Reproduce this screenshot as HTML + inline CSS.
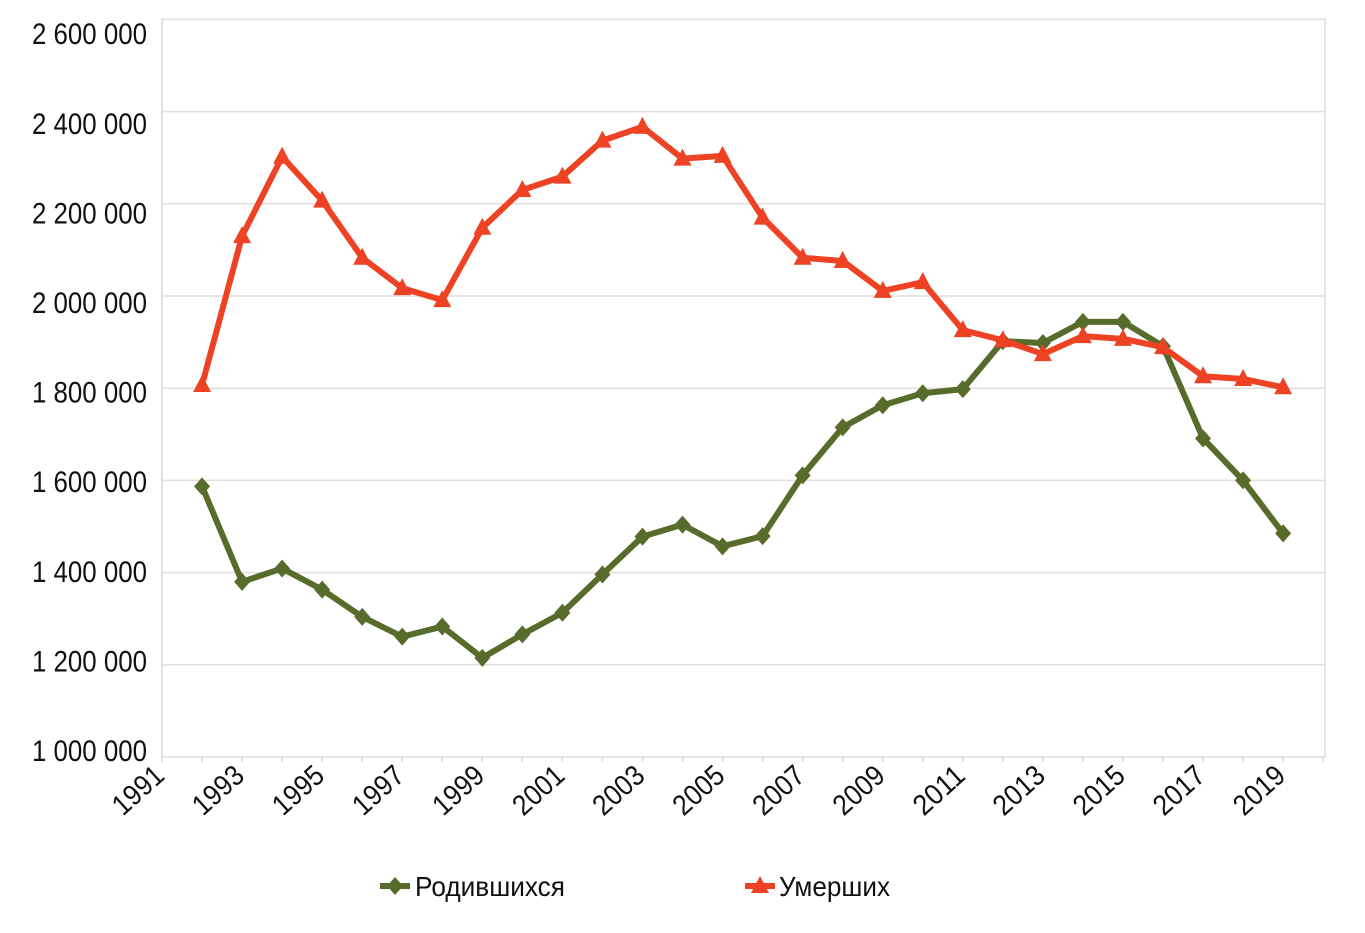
<!DOCTYPE html>
<html><head><meta charset="utf-8"><style>
html,body{margin:0;padding:0;background:#fff;}
svg text{font-family:"Liberation Sans",sans-serif;fill:#111;}
</style></head><body>
<svg id="chart" width="1365" height="928" xmlns="http://www.w3.org/2000/svg"></svg>
<script>
const years=[1992,1993,1994,1995,1996,1997,1998,1999,2000,2001,2002,2003,2004,2005,2006,2007,2008,2009,2010,2011,2012,2013,2014,2015,2016,2017,2018,2019];
const births=[1587,1380,1409,1363,1304,1261,1283,1215,1266,1313,1396,1478,1504,1457,1479,1611,1715,1763,1789,1798,1902,1898,1944,1944,1891,1691,1600,1485];
const deaths=[1807,2130,2302,2207,2083,2017,1991,2148,2230,2259,2337,2367,2298,2304,2170,2083,2076,2011,2030,1926,1904,1874,1913,1907,1889,1826,1820,1802];
const yTicks=[1000,1200,1400,1600,1800,2000,2200,2400,2600];
const yTickLabels=["1 000 000","1 200 000","1 400 000","1 600 000","1 800 000","2 000 000","2 200 000","2 400 000","2 600 000"];
const xTickYears=[1991,1993,1995,1997,1999,2001,2003,2005,2007,2009,2011,2013,2015,2017,2019];
const NS="http://www.w3.org/2000/svg";
const svg=document.getElementById('chart');
function X(yr){return 162+(yr-1991)*40.04;}
function Y(v){return 757-(v-1000)/200*92.2;}
function mk(t,a,p){const e=document.createElementNS(NS,t);for(const k in a)e.setAttribute(k,a[k]);(p||svg).appendChild(e);return e;}
yTicks.forEach((v,i)=>{
  if(i>0){const g=mk('line',{x1:162,x2:1325,y1:Y(v),y2:Y(v),stroke:'#e6dcdc','stroke-width':1.5});
  
  }
  const ly=750-(v-1000)/200*89.6+11;
  const t=mk('text',{x:147,y:ly,'text-anchor':'end','font-size':30,textLength:115,lengthAdjust:'spacingAndGlyphs'});
  t.textContent=yTickLabels[i];
  
  
});
const ax=mk('line',{x1:162,x2:162,y1:18,y2:757,stroke:'#e0d6d6','stroke-width':1.5});


const rb=mk('line',{x1:1325,x2:1325,y1:18,y2:757,stroke:'#e6dcdc','stroke-width':1.5});


const xa=mk('line',{x1:162,x2:1325,y1:757,y2:757,stroke:'#e0d6d6','stroke-width':1.5});


for(let yr=1991;yr<=2020;yr++){const tk=mk('line',{x1:X(yr),x2:X(yr),y1:757,y2:762,stroke:'#e0d6d6','stroke-width':1.5});

}
xTickYears.forEach(yr=>{
  const x=X(yr)+4,y=778;
  const t=mk('text',{x:x,y:y,'text-anchor':'end','font-size':29,textLength:58,lengthAdjust:'spacingAndGlyphs',transform:`rotate(-42 ${x} ${y})`});
  t.textContent=yr;
  
  
});
function series(vals,color,marker,name){
  const pts=vals.map((v,i)=>X(years[i])+','+Y(v)).join(' ');
  const l=mk('polyline',{points:pts,fill:'none',stroke:color,'stroke-width':6,'stroke-linejoin':'round'});
  
  
  vals.forEach((v,i)=>{const m=marker(X(years[i]),Y(v));
    
    });
}
const diamond=(x,y,c)=>mk('polygon',{points:`${x},${y-9} ${x+8},${y} ${x},${y+9} ${x-8},${y}`,fill:c});
const tri=(x,y,c)=>mk('polygon',{points:`${x},${y-10} ${x+9},${y+7} ${x-9},${y+7}`,fill:c});
series(births,'#576b2a',(x,y)=>diamond(x,y,'#576b2a'),'births');
series(deaths,'#ee4224',(x,y)=>tri(x,y,'#ee4224'),'deaths');
const g1=mk('g',{});
mk('line',{x1:380,x2:410,y1:886,y2:886,stroke:'#576b2a','stroke-width':6},g1);
mk('polygon',{points:'395,877 403,886 395,895 387,886',fill:'#576b2a'},g1);
const lt1=mk('text',{x:415,y:896,'font-size':28,textLength:150,lengthAdjust:'spacingAndGlyphs'},g1);lt1.textContent='Родившихся';
const g2=mk('g',{});
mk('line',{x1:745,x2:775,y1:886,y2:886,stroke:'#ee4224','stroke-width':6},g2);
mk('polygon',{points:'760,876 769,893 751,893',fill:'#ee4224'},g2);
const lt2=mk('text',{x:779,y:896,'font-size':28,textLength:111,lengthAdjust:'spacingAndGlyphs'},g2);lt2.textContent='Умерших';
</script>
</body></html>
